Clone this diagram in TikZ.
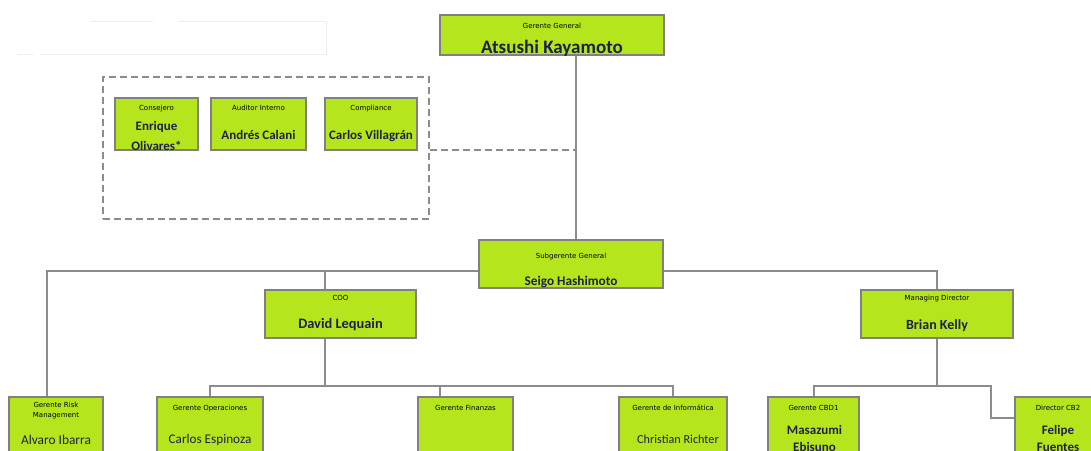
\documentclass[tikz,border=0pt]{standalone}
\usepackage{fontspec}
\setmainfont{Carlito}
\newfontfamily\titlefont{DejaVu Sans}
\definecolor{boxfill}{HTML}{B5E61D}
\definecolor{boxline}{HTML}{808080}
\definecolor{linegray}{HTML}{8C8C8C}
\definecolor{namecol}{HTML}{1F1F4A}
\definecolor{faint}{HTML}{EDEDED}
\begin{document}
\begin{tikzpicture}[x=1pt,y=-1pt,
  orgbox/.style={draw=boxline, line width=2pt, fill=boxfill, inner sep=0pt, rectangle},
  grpbox/.style={draw=linegray, line width=2pt, dash pattern=on 7pt off 4pt, rectangle, inner sep=0pt},
  conn/.style={draw=linegray, line width=2pt},
  dconn/.style={draw=linegray, line width=2pt, dash pattern=on 7pt off 4pt},
  ttl/.style={font=\titlefont\fontsize{7}{8}\selectfont, text=black, inner sep=0pt, anchor=base},
  nmb/.style={font=\bfseries\fontsize{13}{15}\selectfont, text=namecol, inner sep=0pt, anchor=base},
  nmr/.style={font=\fontsize{12.6}{15}\selectfont, text=namecol, inner sep=0pt, anchor=base},
]
\useasboundingbox (0,0) rectangle (1091,450);
\clip (0,0) rectangle (1091,450);
\fill[white] (0,0) rectangle (1091,450);

% faint artefact frame
\draw[faint, line width=1pt] (90,21) -- (153,21) (178,21) -- (326,21) -- (326,54) -- (40,54) (33,54) -- (17,54);

% helper coordinates
\coordinate (spine) at (576,0);
\coordinate (cx) at (325,0);
\coordinate (rx) at (47,0);
\coordinate (fx) at (440,0);
\coordinate (jx) at (991,0);
\coordinate (h0) at (0,150);
\coordinate (h1) at (0,271);
\coordinate (h2) at (0,386);
\coordinate (h3) at (0,418);

% boxes
\node[orgbox, minimum width=224pt, minimum height=40pt] (gg) at (552,35) {};
\node[grpbox, minimum width=326pt, minimum height=142pt] (grp) at (266,148) {};
\node[orgbox, minimum width=83pt, minimum height=52pt] (cons) at (156.5,124) {};
\node[orgbox, minimum width=95pt, minimum height=52pt] (aud) at (258.5,124) {};
\node[orgbox, minimum width=92pt, minimum height=52pt] (comp) at (371,124) {};
\node[orgbox, minimum width=184pt, minimum height=48pt] (sg) at (571,264) {};
\node[orgbox, minimum width=151pt, minimum height=48pt] (coo) at (340.5,314) {};
\node[orgbox, minimum width=152pt, minimum height=48pt] (md) at (937,314) {};
\node[orgbox, minimum width=94pt, minimum height=78pt] (risk) at (56,436) {};
\node[orgbox, minimum width=106pt, minimum height=78pt] (ops) at (210,436) {};
\node[orgbox, minimum width=95pt, minimum height=78pt] (fin) at (465.5,436) {};
\node[orgbox, minimum width=108pt, minimum height=78pt] (inf) at (673,436) {};
\node[orgbox, minimum width=91pt, minimum height=78pt] (cbd1) at (813.5,436) {};
\node[orgbox, minimum width=86pt, minimum height=78pt] (cb2) at (1058,436) {};

% connectors
\draw[conn] (gg.south -| spine) -- (sg.north -| spine);
\draw[dconn] (grp.east |- h0) -- (spine |- h0);
\draw[conn] (risk.north -| rx) |- (sg.west |- h1);
\draw[conn] (sg.east |- h1) -| (md.north);
\draw[conn] (coo.north -| cx) -- (h1 -| cx);
\draw[conn] (coo.south -| cx) -- (h2 -| cx);
\draw[conn] (ops.north) -- (ops.north |- h2) -- (inf.north |- h2) -- (inf.north);
\draw[conn] (fin.north -| fx) -- (h2 -| fx);
\draw[conn] (md.south) -- (md.south |- h2);
\draw[conn] (cbd1.north) -- (cbd1.north |- h2) -- (jx |- h2) -- (jx |- h3) -- (cb2.west |- h3);

% texts
\node[ttl] (t-gg) at (552,28) {Gerente General};
\node[nmb, font=\bfseries\fontsize{19}{22}\selectfont] (n-gg) at (552,53) {Atsushi Kayamoto};

\node[ttl] (t-cons) at (156.5,110) {Consejero};
\node[nmb] (n-cons1) at (156.5,130.5) {Enrique};
\node[nmb] (n-cons2) at (156.5,150) {Olivares*};
\node[ttl] (t-aud) at (258.5,110) {Auditor Interno};
\node[nmb] (n-aud) at (258.5,139.5) {Andrés Calani};
\node[ttl] (t-comp) at (371,110) {Compliance};
\node[nmb] (n-comp) at (371,139.5) {Carlos Villagrán};

\node[ttl] (t-sg) at (571,258.5) {Subgerente General};
\node[nmb, font=\bfseries\fontsize{13.3}{15}\selectfont] (n-sg) at (571,285.5) {Seigo Hashimoto};

\node[ttl] (t-coo) at (340.5,300.5) {COO};
\node[nmb, font=\bfseries\fontsize{14.4}{16}\selectfont] (n-coo) at (340.5,328.5) {David Lequain};

\node[ttl] (t-md) at (937,300.5) {Managing Director};
\node[nmb, font=\bfseries\fontsize{14}{16}\selectfont] (n-md) at (937,329) {Brian Kelly};

\node[ttl] (t-risk1) at (56,407) {Gerente Risk};
\node[ttl] (t-risk2) at (56,417.5) {Management};
\node[nmr, font=\fontsize{13.4}{15}\selectfont] (n-risk) at (56,444) {Alvaro Ibarra};

\node[ttl] (t-ops) at (210,410.5) {Gerente Operaciones};
\node[nmr, font=\fontsize{13.2}{15}\selectfont] (n-ops) at (210,443) {Carlos Espinoza};

\node[ttl] (t-fin) at (465.5,410.5) {Gerente Finanzas};

\node[ttl] (t-inf) at (673,410.5) {Gerente de Informática};
\node[nmr, font=\fontsize{12.2}{15}\selectfont] (n-inf) at (678,443) {Christian Richter};

\node[ttl] (t-cbd1) at (813.5,410.5) {Gerente CBD1};
\node[nmb] (n-cbd1a) at (814.5,434) {Masazumi};
\node[nmb] (n-cbd1b) at (814.5,451) {Ebisuno};

\node[ttl] (t-cb2) at (1058,410.5) {Director CB2};
\node[nmb] (n-cb2a) at (1058,434) {Felipe};
\node[nmb] (n-cb2b) at (1058,451) {Fuentes};
\end{tikzpicture}
\end{document}
